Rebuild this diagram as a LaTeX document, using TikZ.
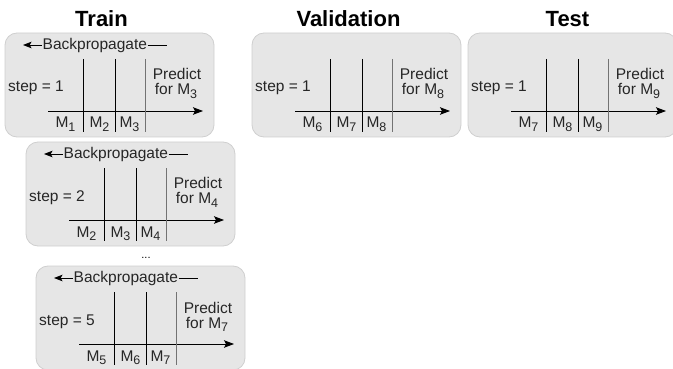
\documentclass[tikz,border=0pt]{standalone}
\usepackage{fontspec}
\setmainfont{Liberation Sans}
\usetikzlibrary{arrows.meta}
\definecolor{boxfill}{HTML}{E6E6E6}
\definecolor{boxline}{HTML}{CFCFCF}
\newcommand{\msub}[1]{\raisebox{-3.5pt}{\fontsize{12.5}{13}\selectfont #1}}
\tikzset{
  panelbox/.style={draw=boxline, fill=boxfill, rounded corners=12pt, minimum width=209pt, minimum height=104pt, inner sep=0pt, outer sep=0pt, line width=0.8pt},
  axisline/.style={-{Stealth[length=10pt,width=7.5pt,inset=2pt]}, line width=0.9pt},
  bpline/.style={line width=0.9pt},
  bparrow/.style={{Stealth[length=8.5pt,width=6.5pt,inset=1.8pt]}-, line width=0.9pt},
  vline/.style={line width=0.9pt},
  vlinegray/.style={line width=0.9pt, draw=black!55},
  txt/.style={font=\fontsize{15.5}{17}\selectfont, inner sep=0pt, text=black!85},
  title/.style={font=\fontsize{22}{24}\selectfont\bfseries, inner sep=0pt},
  dotstxt/.style={font=\fontsize{11}{12}\selectfont, inner sep=0pt},
  pics/panel/.style n args={4}{code={
    \node[panelbox] (-box) at (109.5,85) {};
    \coordinate (-a0) at (48,111);
    \coordinate (-a1) at (203,111);
    \draw[axisline] (-a0) -- (-a1);
    \coordinate (-t1) at (83,59);  \coordinate (-b1) at (83,132);
    \coordinate (-t2) at (115,59); \coordinate (-b2) at (115,132);
    \coordinate (-t3) at (145,59); \coordinate (-b3) at (145,132);
    \draw[vline] (-t1) -- (-b1);
    \draw[vline] (-t2) -- (-b2);
    \draw[vlinegray] (-t3) -- (-b3);
    \node[txt, anchor=base west] (-step) at (8,92) {step = #1};
    \node[txt, anchor=base] (-pred) at (177,80) {Predict};
    \node[txt, anchor=base] (-for) at (176,95) {for M\msub{#4}};
    \node[txt, anchor=base] (-m1) at (65.5,128) {M\msub{#2}};
    \node[txt, anchor=base] (-m2) at (99.5,128) {M\msub{#3}};
    \node[txt, anchor=base] (-m3) at (129.5,128) {M\msub{#4}};
  }},
  pics/backprop/.style={code={
    \coordinate (-l) at (23,45);
    \coordinate (-r) at (167,45);
    \node[txt, anchor=west, inner xsep=0.5pt] (-bp) at (42,45) {Backpropagate};
    \draw[bparrow] (-l) -- (-bp.west);
    \draw[bpline] (-bp.east) -- (-r);
  }},
}
\begin{document}
\begin{tikzpicture}[x=1pt,y=-1pt]
  \useasboundingbox (0,0) rectangle (673,369);
  \node[title, anchor=base] (ttrain) at (101.5,27) {Train};
  \node[title, anchor=base] (tval) at (348.5,27) {Validation};
  \node[title, anchor=base] (ttest) at (567.5,27) {Test};

  \pic (p1) at (0,0) {panel={1}{1}{2}{3}};
  \pic (bp1) at (0,0) {backprop};
  \pic (p2) at (21,109) {panel={2}{2}{3}{4}};
  \pic (bp2) at (21,109) {backprop};
  \node[dotstxt, anchor=base] (dots) at (146,258) {...};
  \pic (p3) at (31,233) {panel={5}{5}{6}{7}};
  \pic (bp3) at (31,233) {backprop};

  \pic (pv) at (247,0) {panel={1}{6}{7}{8}};
  \pic (pt) at (463,0) {panel={1}{7}{8}{9}};
\end{tikzpicture}
\end{document}
